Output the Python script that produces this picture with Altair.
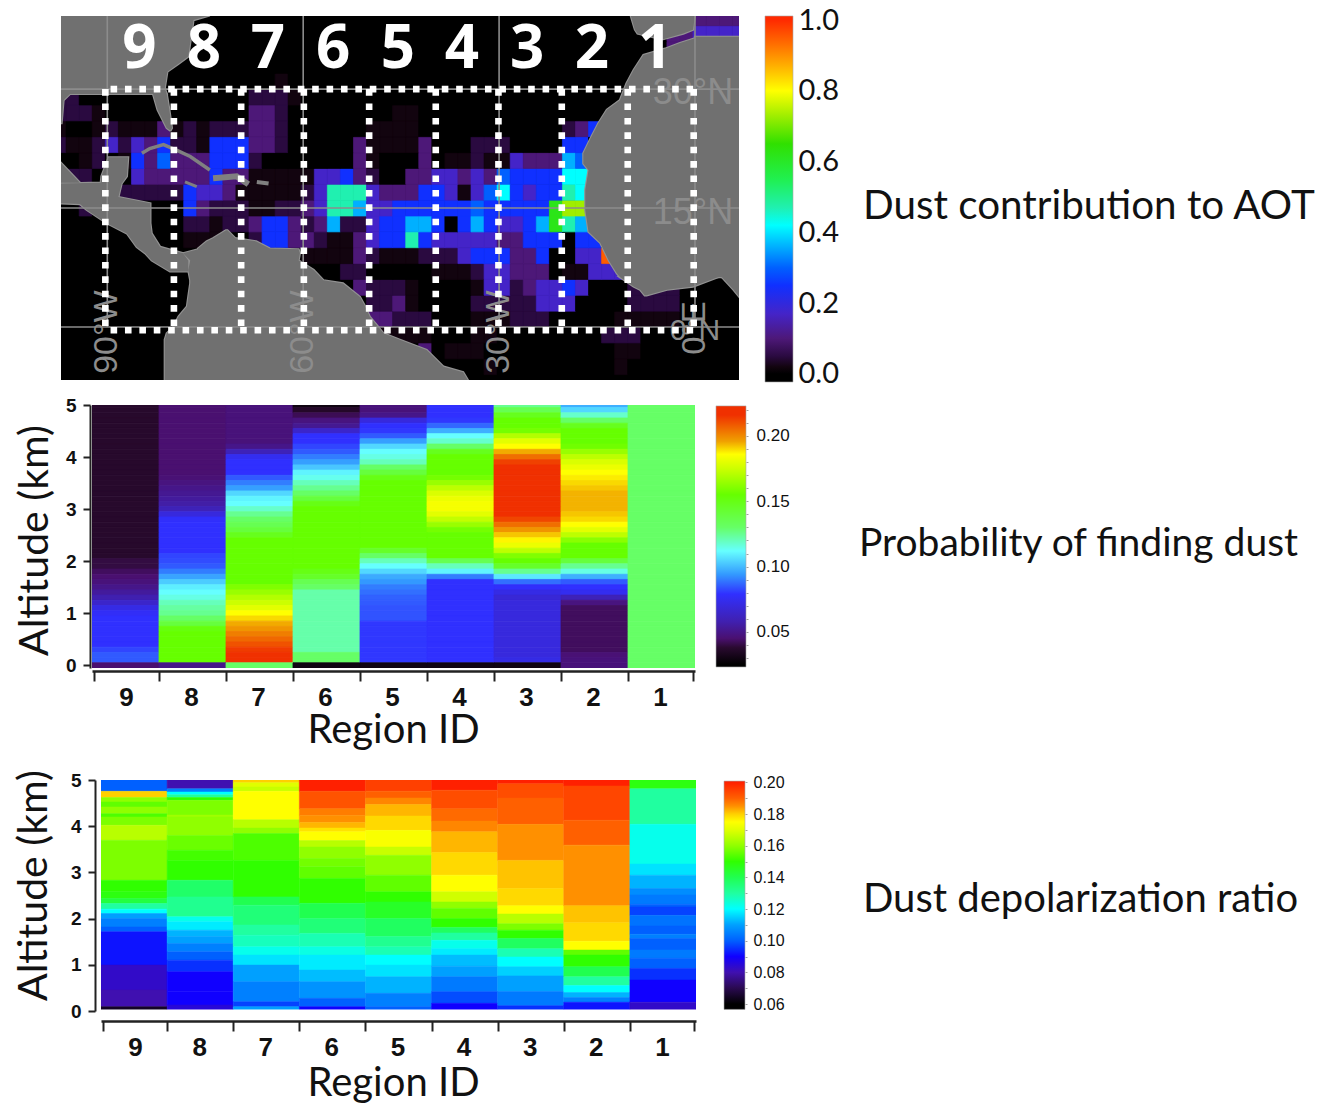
import altair as alt
import pandas as pd

TITLE_FONT = "Lato"
NUM_FONT = "Liberation Sans"

# ---------- map: dust contribution to AOT, 2 x 2 degree cells ----------
LON_START = -98.3
LON_RANGE = [-97.09, 6.74]
LAT_RANGE = [-6.68, 39.22]
LEVELS = {"0": 0.0, "1": 0.02, "2": 0.05, "3": 0.1, "4": 0.17, "5": 0.25, "6": 0.3, "7": 0.36,
          "8": 0.42, "9": 0.47, "a": 0.55, "b": 0.62, "c": 0.73, "d": 0.95}
AOT_ROWS = {
    38: "0000000000 0000000000 0000000000 0000000000 0000000003 333",
    36: "0000000000 0000000000 0000000000 0000000000 0000000334 444",
    34: "0000000000 0000000000 0000000000 0000000000 0000000330 000",
    30: "0000000000 0000000100 0000000000 0000000000 0000000000 000",
    28: "2200000000 0000022210 0000000000 0000000000 0000000000 000",
    26: "2221000000 0000033200 0000001100 0000000000 0000000000 000",
    24: "1001211131 2122233200 0000111100 0000000002 3500000000 000",
    22: "2112424352 2155533200 0003111130 0022200005 5000000000 000",
    20: "0012015363 3355520000 0003100030 1121143337 6000000000 000",
    18: "2220004333 3353311111 4453200334 4343655558 8000000000 000",
    16: "0000022222 5443111112 4999433355 4146854559 8000000000 000",
    14: "0020000000 5322211223 4997445555 55655555bc c000000000 000",
    12: "0000000000 2212235532 3722455775 05754457b9 7000000000 000",
    10: "0000000000 1110025533 2113455954 4444335550 5500000000 000",
    8: "0000000000 0000000001 1113211122 2455533500 44d0000000 000",
    6: "0000000000 0000000000 0022000001 1124433301 1444000000 000",
    4: "0000000000 0000000000 0003222100 0014423445 4000222200 000",
    2: "0000000000 0000000000 0000223100 0022222444 0000222200 000",
    0: "0000000000 0000000000 0000332220 0011122200 0001111100 000",
    -2: "0000000000 0000000000 0000011110 0011000000 0022200000 000",
    -4: "0000000000 0000000000 0000000030 1110000000 0001100000 000",
    -6: "0000000000 0000000000 0000000000 0001000000 0001000000 000",
}

AOT_STOPS = [-0.0226, 0.0, 0.02, 0.05, 0.1, 0.17, 0.25, 0.3, 0.36, 0.42, 0.47, 0.55, 0.65, 0.73, 0.8, 0.87, 0.93, 1.0, 1.0113]
AOT_COLORS = ["#000000", "#000000", "#12040f", "#2a0a40", "#4d1878", "#4424c8", "#1030ff", "#0060ff", "#00b0ff",
              "#00ffff", "#20f0b0", "#20f050", "#30e000", "#a0ee00", "#ffff00", "#ffb000", "#ff7000", "#ff2a00", "#ff2a00"]

# land pieces: (lat, west lon, east lon)
LAND_NORTH = [(39.3, -97.1, -74.3), (38.7, -97.1, -76.8), (34.1, -97.1, -77.6), (33.2, -97.1, -79.1),
              (32.2, -97.1, -80.8), (30.1, -97.1, -81.2), (29.4, -97.1, -80.9)]
LAND_FLORIDA = [(29.4, -83.0, -80.9), (27.4, -82.3, -80.5), (25.1, -80.9, -80.1), (24.8, -80.4, -80.3)]
LAND_GULF = [(29.4, -97.1, -95.7), (28.6, -97.1, -96.7), (25.7, -97.1, -97.0)]
LAND_WEDGE = [(20.7, -97.1, -97.1), (18.2, -97.1, -94.2)]
LAND_CENTRAL = [(21.4, -89.8, -86.8), (19.0, -90.9, -87.0), (18.2, -91.0, -87.7), (18.1, -97.1, -87.8),
                (16.4, -97.1, -88.3), (15.6, -97.1, -83.4), (15.5, -94.2, -83.4), (14.8, -93.2, -83.4),
                (13.1, -90.1, -83.4), (11.8, -87.0, -83.2), (10.1, -85.5, -81.9), (9.3, -84.2, -78.4),
                (8.4, -83.2, -77.6), (7.0, -80.4, -77.6)]
LAND_SOUTH = [(12.2, -71.8, -71.6), (11.2, -73.8, -70.4), (10.8, -74.8, -67.2), (9.9, -76.1, -65.1),
              (9.8, -76.1, -60.7), (9.3, -78.4, -60.5), (8.4, -77.3, -60.7), (7.2, -77.6, -58.4),
              (5.9, -77.3, -56.9), (5.5, -77.3, -53.9), (3.8, -77.6, -51.3), (2.6, -77.8, -50.5),
              (1.3, -79.1, -49.8), (0.0, -79.9, -48.5), (-0.8, -80.9, -47.7), (-1.6, -81.2, -45.2),
              (-2.9, -81.2, -41.1), (-5.0, -81.2, -38.5), (-5.7, -81.2, -35.5), (-6.8, -81.2, -34.7)]
LAND_SPAIN = [(39.3, -9.85, 0.0), (37.5, -9.2, -0.3), (37.0, -8.8, -1.8), (36.3, -5.1, -4.9)]
LAND_AFRICA = [(36.6, 0.0, 6.8), (36.4, 0.0, 6.8), (35.8, -2.3, 6.8), (35.1, -4.6, 6.8), (34.3, -7.9, 6.8),
               (32.4, -9.4, 6.8), (30.7, -10.5, 6.8), (28.6, -11.5, 6.8), (27.4, -13.5, 6.8), (25.7, -14.8, 6.8),
               (23.6, -16.1, 6.8), (21.9, -17.1, 6.8), (20.6, -17.1, 6.8), (19.8, -16.3, 6.8), (17.3, -16.8, 6.8),
               (14.75, -16.8, 6.8), (12.0, -16.3, 6.8), (10.6, -14.5, 6.8), (8.4, -13.2, 6.8), (6.8, -12.0, 6.8),
               (6.3, -11.5, 6.8)]
LAND_GUINEA = [(6.3, -11.5, 3.6), (5.1, -9.4, -0.3), (4.7, -8.4, -4.3), (4.0, -7.7, -7.4)]
LAND_NIGER = [(6.3, 4.1, 6.8), (4.7, 5.9, 6.8), (3.8, 6.8, 6.8)]
LAND_PIECES = [LAND_NORTH, LAND_FLORIDA, LAND_GULF, LAND_WEDGE, LAND_CENTRAL, LAND_SOUTH, LAND_SPAIN,
               LAND_AFRICA, LAND_GUINEA, LAND_NIGER]
ISLAND_CUBA = [(-84.7, 21.9), (-83.5, 22.5), (-81.4, 23.0), (-79.4, 22.3), (-77.3, 21.5), (-74.3, 19.8)]
ISLAND_HISPANIOLA = [(-73.8, 18.75), (-70.2, 19.0), (-68.4, 18.0)]
ISLAND_JAMAICA = [(-78.1, 18.3), (-76.3, 17.7)]
ISLAND_PR = [(-67.1, 18.3), (-65.3, 18.1)]

GRID_LATS = [30, 15, 0]
GRID_LONS = [-90, -60, -30, 0]
BOX_LONS = [-90.3, -79.8, -69.5, -59.9, -49.9, -39.7, -30.1, -20.4, -10.3, -0.2]
BOX_TOP = 30.0
BOX_BOTTOM = -0.4
BOX_WEST = -89.5
BIG_LABELS = ["9", "8", "7", "6", "5", "4", "3", "2", "1"]
BIG_LONS = [-85.1, -75.2, -65.4, -55.4, -45.5, -35.7, -25.7, -15.8, -6.1]
BIG_LAT = 34.9
GRID_TEXT_H = [("30°N", -0.3, 29.5), ("15°N", -0.3, 14.4)]
GRID_TEXT_V = [("90°W", -90.0, -5.9), ("60°W", -60.0, -5.9), ("30°W", -30.0, -5.9)]
GRID_TEXT_ZERO = [("0°N", 0.0, -0.5)]
GRID_TEXT_ZERO_V = [("0°E", 0.0, -3.5)]

AOT_TICKS = [0.0, 0.2, 0.4, 0.6, 0.8, 1.0]

# ---------- probability of finding dust: altitude 5.0 -> 0.0 km, 0.1 km steps ----------
PROB_ALT_TOP = 5.0
PROB_9 = [.037]*30 + [.04, .04, .043, .045, .047, .05, .054, .058, .065, .072, .077] + [.079]*6 + [.082, .085, .085, .045]
PROB_8 = [.045]*14 + [.046, .048, .05, .052, .054, .056, .06, .07, .078] + [.079]*6 + [.082, .083, .085, .09, .096, .103, .109, .112, .115, .12, .123, .125, .13, .14, .152] + [.155]*6 + [.05]
PROB_7 = [.047]*8 + [.05, .06, .075] + [.079]*3 + [.085, .09, .095, .105, .11, .112, .118, .125, .13, .135, .14, .148] + [.155]*9 + [.16, .165, .17, .175, .18, .186, .19, .195, .198, .202, .206, .21, .214, .216, .216, .13]
PROB_6 = [.03, .036, .042, .048, .052, .065, .079, .079, .082, .085, .09, .095, .102, .11, .114, .12, .125, .13, .14, .15] + [.155]*12 + [.15, .145, .135, .13] + [.122]*12 + [.13, .13, .03]
PROB_5 = [.047, .047, .05, .07, .079, .08, .085, .095, .105, .112, .115, .12, .13, .14, .15] + [.155]*13 + [.145, .13, .12, .112, .105, .097, .094, .09, .088, .086, .085, .084, .084, .084] + [.08]*8 + [.03]
PROB_4 = [.079]*3 + [.08, .087, .098, .112, .118, .13, .148] + [.155]*4 + [.158, .165, .172, .178, .182, .184, .184, .18, .173, .165, .158] + [.155]*5 + [.135, .12, .11, .09] + [.079]*16 + [.03]
PROB_3 = [.125, .135, .148, .155, .155, .158, .17, .18, .186, .195, .205, .213] + [.216]*10 + [.212, .205, .198, .192, .187, .182, .172, .16, .155, .145, .125, .108, .088, .078, .072, .068] + [.07]*11 + [.072, .03]
PROB_2 = [.098, .105, .118, .13, .148, .155, .155, .155, .157, .165, .172, .178, .182, .186, .188, .19, .192, .194, .194, .194, .194, .192, .19, .186, .18, .172, .162, .155, .155, .155, .14, .125, .115, .098, .085, .079, .075, .06, .048] + [.043]*9 + [.046, .047, .047]
PROB_1 = [.13]*51
PROB_SERIES = [PROB_9, PROB_8, PROB_7, PROB_6, PROB_5, PROB_4, PROB_3, PROB_2, PROB_1]
PROB_STOPS = [.0232, .025, .038, .045, .058, .079, .094, .112, .13, .155, .175, .186, .196, .216, .223]
PROB_COLORS = ["#000000", "#000000", "#2a0a30", "#4a1070", "#4020b0", "#3030ff", "#3399ff", "#66ffff", "#66ff66",
               "#66ff00", "#ccff00", "#ffff00", "#f0a000", "#f03000", "#f03000"]
PROB_TICKS = [round(.03 + .01 * i, 2) for i in range(20)]
PROB_LABELLED = [0.05, 0.1, 0.15, 0.2]

# ---------- dust depolarization ratio: stepped bands, tops in km ----------
DEPOL_BOTTOM = 0.04
DEPOL_TOPS_9 = [5, 4.755, 4.62, 4.525, 4.416, 4.272, 4.2, 4.02, 3.696, 2.83, 2.58, 2.435, 2.327, 2.205, 2.11, 2.0, 1.82, 1.715, .994, .454, .094]
DEPOL_VALS_9 = [.10, .18, .16, .155, .16, .153, .158, .165, .158, .15, .148, .142, .13, .12, .11, .105, .1, .092, .083, .08, .065]
DEPOL_TOPS_8 = [5, 4.81, 4.74, 4.68, 4.62, 4.56, 4.24, 4.2, 3.8, 3.48, 3.26, 2.83, 2.47, 2.04, 1.93, 1.75, 1.61, 1.46, 1.28, 1.10, .85, .42, .13]
DEPOL_VALS_8 = [.08, .105, .12, .13, .15, .158, .162, .16, .156, .152, .15, .137, .132, .122, .118, .112, .11, .105, .1, .095, .09, .09, .085]
DEPOL_TOPS_7 = [5, 4.94, 4.85, 4.755, 4.14, 3.96, 3.84, 3.26, 2.47, 2.29, 1.86, 1.64, 1.39, 1.21, .994, .634, .2, .094]
DEPOL_VALS_7 = [.18, .17, .167, .175, .165, .16, .153, .15, .14, .135, .13, .127, .122, .117, .11, .105, .097, .11]
DEPOL_TOPS_6 = [5, 4.755, 4.38, 4.236, 4.078, 3.96, 3.88, 3.69, 3.55, 3.3, 3.12, 2.87, 2.33, 2.0, 1.68, 1.39, 1.21, .886, .634, .274, .094]
DEPOL_VALS_6 = [.2, .192, .187, .185, .182, .178, .175, .165, .16, .157, .155, .15, .14, .135, .128, .123, .118, .113, .108, .1, .09]
DEPOL_TOPS_5 = [5, 4.755, 4.61, 4.47, 4.22, 3.91, 3.55, 3.37, 2.94, 2.58, 2.36, 2.0, 1.61, 1.39, 1.21, .994, .742, .382, .094]
DEPOL_VALS_5 = [.195, .19, .186, .182, .179, .174, .167, .16, .155, .15, .145, .138, .132, .128, .12, .117, .112, .105, .1]
DEPOL_TOPS_4 = [5, 4.78, 4.38, 4.11, 3.88, 3.43, 2.94, 2.58, 2.36, 2.22, 2.0, 1.81, 1.69, 1.53, 1.35, 1.21, .97, .742, .418, .166]
DEPOL_VALS_4 = [.2, .193, .189, .186, .182, .179, .175, .168, .16, .155, .15, .138, .13, .122, .118, .113, .11, .104, .098, .09]
DEPOL_TOPS_3 = [5, 4.92, 4.61, 4.04, 3.26, 2.65, 2.28, 2.1, 1.89, 1.75, 1.57, 1.35, 1.17, .96, .76, .42, .115]
DEPOL_VALS_3 = [.2, .193, .19, .185, .181, .179, .175, .165, .158, .15, .138, .128, .12, .115, .11, .104, .095]
DEPOL_TOPS_2 = [5, 4.87, 4.13, 3.59, 2.28, 1.91, 1.51, 1.32, 1.21, .96, .74, .55, .40, .29, .19]
DEPOL_VALS_2 = [.2, .194, .19, .185, .181, .179, .175, .155, .15, .14, .13, .12, .112, .105, .092]
DEPOL_TOPS_1 = [5, 4.81, 4.04, 3.18, 2.94, 2.65, 2.51, 2.31, 2.25, 2.07, 1.84, 1.66, 1.57, 1.32, 1.14, .92, .67, .19]
DEPOL_VALS_1 = [.148, .13, .122, .117, .112, .107, .104, .1, .097, .103, .1, .105, .1, .104, .1, .095, .09, .083]
DEPOL_SERIES = [(DEPOL_TOPS_9, DEPOL_VALS_9), (DEPOL_TOPS_8, DEPOL_VALS_8), (DEPOL_TOPS_7, DEPOL_VALS_7),
                (DEPOL_TOPS_6, DEPOL_VALS_6), (DEPOL_TOPS_5, DEPOL_VALS_5), (DEPOL_TOPS_4, DEPOL_VALS_4),
                (DEPOL_TOPS_3, DEPOL_VALS_3), (DEPOL_TOPS_2, DEPOL_VALS_2), (DEPOL_TOPS_1, DEPOL_VALS_1)]
DEPOL_STOPS = [.0566, .06, .07, .08, .09, .10, .11, .12, .13, .14, .15, .16, .17, .175, .18, .185, .19, .2, .2008]
DEPOL_COLORS = ["#000000", "#000000", "#2a0a50", "#4010b0", "#1000ff", "#0060ff", "#00a0ff", "#00ffff", "#20ffa0",
                "#20ff50", "#30ff00", "#90ff00", "#e0ff00", "#ffff00", "#ffd000", "#ff9000", "#ff6000", "#ff2000", "#ff2000"]
DEPOL_TICKS = [round(.06 + .01 * i, 2) for i in range(15)]
DEPOL_LABELLED = [.06, .08, .1, .12, .14, .16, .18, .2]

REGION_LABELS = ["9", "8", "7", "6", "5", "4", "3", "2", "1"]
REGION_TICKS = [0.03, 1, 2, 3, 4, 5, 6, 7, 8, 8.97]
ALT_TICKS = [0, 1, 2, 3, 4, 5]

SIDE_LABELS = ["Dust contribution to AOT", "Probability of finding dust", "Dust depolarization ratio"]

# layout tuning
GAP_1 = 7
GAP_2 = 19


def spacer(w, h):
    return alt.Chart(pd.DataFrame({"a": [0]})).mark_rect(opacity=0).encode(
        x=alt.value(0), x2=alt.value(w), y=alt.value(0), y2=alt.value(h)
    ).properties(width=w, height=h)


def side_text(label, w, h, dx, dy, size):
    return alt.Chart(pd.DataFrame({"t": [label]})).mark_text(
        align="left", baseline="middle", font=TITLE_FONT, fontSize=size, color="#111111"
    ).encode(x=alt.value(dx), y=alt.value(dy), text="t:N").properties(width=w, height=h)


def gradient(stops, colors):
    lo, hi = stops[0], stops[-1]
    return alt.Gradient(
        gradient="linear", x1=0, x2=0, y1=1, y2=0,
        stops=[alt.GradientStop(offset=(s - lo) / (hi - lo), color=c) for s, c in zip(stops, colors)],
    )


def colorbar(stops, colors, domain, ticks, labelled, fmt, w, h, font, size, pad, tick_size):
    expr = "indexof([" + ",".join(str(v) for v in labelled) + "], datum.value) >= 0 ? format(datum.value, '" + fmt + "') : ''"
    df = pd.DataFrame({"hi": [stops[-1]], "lo": [stops[0]]})
    return alt.Chart(df).mark_rect(fill=gradient(stops, colors), stroke="#a8a8a8", strokeWidth=0.6).encode(
        y=alt.Y("hi:Q", scale=alt.Scale(domain=domain, nice=False, zero=False),
                axis=alt.Axis(orient="right", values=ticks, labelExpr=expr, title=None, domain=False, grid=False,
                              ticks=tick_size > 0, tickSize=tick_size, tickColor="#888888", tickWidth=0.8,
                              labelFont=font, labelFontSize=size, labelPadding=pad, labelColor="#111111",
                              labelOverlap=False, labelFlush=False, labelBound=False)),
        y2="lo:Q",
    ).properties(width=w, height=h)


def region_axis(offset, title_x, title_pad):
    expr = "['" + "','".join(REGION_LABELS) + "',''][round(datum.value)]"
    return alt.Axis(values=REGION_TICKS, labelExpr=expr, labelOffset=32, title="Region ID", titleFont=TITLE_FONT,
                    titleFontSize=40, titleFontWeight="normal", titleColor="#111111", titlePadding=title_pad,
                    titleX=title_x,
                    labelFont=NUM_FONT, labelFontWeight="bold", labelFontSize=26, labelColor="#111111",
                    labelPadding=3, labelAngle=0, labelOverlap=False, labelFlush=False, labelBound=False,
                    tickSize=10, tickWidth=2, tickColor="#222222", domainWidth=2.5, domainColor="#222222",
                    grid=False, offset=offset)


def altitude_axis(offset, title_x, title_y, size):
    return alt.Axis(values=ALT_TICKS, title="Altitude (km)", titleFont=TITLE_FONT, titleFontSize=41,
                    titleFontWeight="normal", titleColor="#111111", titleX=title_x, titleY=title_y,
                    titleBaseline="alphabetic", titleAlign="center", titleAngle=270,
                    labelFont=NUM_FONT, labelFontWeight="bold", labelFontSize=size, labelColor="#111111",
                    labelPadding=7, tickSize=7, tickWidth=2, tickColor="#222222", domainWidth=2,
                    domainColor="#222222", grid=False, offset=offset, labelOverlap=False, labelBound=False, labelFlush=False)


def value_color(field, stops, colors):
    return alt.Color(field, scale=alt.Scale(domain=stops, range=colors, interpolate="rgb", clamp=True), legend=None)


def value_stroke(field, stops, colors):
    return alt.Stroke(field, scale=alt.Scale(domain=stops, range=colors, interpolate="rgb", clamp=True), legend=None)


# ---------- map ----------
cells = []
for lat in range(-8, 40, 2):
    row = AOT_ROWS.get(lat, "").replace(" ", "").ljust(53, "0")
    for i, c in enumerate(row):
        lon0 = LON_START + 2 * i
        cells.append({"lon0": lon0, "lon1": lon0 + 2, "lat0": lat, "lat1": lat + 2, "v": LEVELS[c]})
cells = pd.DataFrame(cells)

xs = alt.Scale(domain=LON_RANGE, nice=False, zero=False)
ys = alt.Scale(domain=[LAT_RANGE[0], LAT_RANGE[1]], nice=False, zero=False)
X = lambda f: alt.X(f, scale=xs, axis=None)
Y = lambda f: alt.Y(f, scale=ys, axis=None)

ocean = alt.Chart(pd.DataFrame({"a": [LON_RANGE[0]], "b": [LON_RANGE[1]], "c": [LAT_RANGE[0]], "d": [LAT_RANGE[1]]})).mark_rect(
    color="#000000", clip=True).encode(x=X("a:Q"), x2="b:Q", y=Y("c:Q"), y2="d:Q")

base_cells = alt.Chart(cells).mark_rect(clip=True, strokeWidth=0.7).encode(
    x=X("lon0:Q"), x2="lon1:Q", y=Y("lat0:Q"), y2="lat1:Q",
    color=value_color("v:Q", AOT_STOPS, AOT_COLORS), stroke=value_stroke("v:Q", AOT_STOPS, AOT_COLORS),
)

land = pd.DataFrame([{"piece": i, "lat": a, "lo": b, "hi": c} for i, p in enumerate(LAND_PIECES) for a, b, c in p])
land_edge = alt.Chart(land).mark_area(orient="horizontal", clip=True, color="#929292", stroke="#929292", strokeWidth=2.2).encode(
    y=Y("lat:Q"), x=alt.X("lo:Q", scale=xs, axis=None, stack=None), x2="hi:Q", detail="piece:N")
land_fill = alt.Chart(land).mark_area(orient="horizontal", clip=True, color="#707070").encode(
    y=Y("lat:Q"), x=alt.X("lo:Q", scale=xs, axis=None, stack=None), x2="hi:Q", detail="piece:N")


def island(points, w):
    df = pd.DataFrame([{"i": i, "lon": a, "lat": b} for i, (a, b) in enumerate(points)])
    return alt.Chart(df).mark_line(clip=True, color="#808080", strokeWidth=w).encode(
        x=X("lon:Q"), y=Y("lat:Q"), order="i:Q")


grid_h = alt.Chart(pd.DataFrame({"lat": GRID_LATS, "a": LON_RANGE[0], "b": LON_RANGE[1]})).mark_rule(
    color="#8c8c8c", strokeWidth=1.6, clip=True).encode(y=Y("lat:Q"), x=X("a:Q"), x2="b:Q")
grid_v = alt.Chart(pd.DataFrame({"lon": GRID_LONS, "a": 0.0, "b": LAT_RANGE[1]})).mark_rule(
    color="#8c8c8c", strokeWidth=1.6, clip=True).encode(x=X("lon:Q"), y=Y("a:Q"), y2="b:Q")


def grid_text(rows, angle, align, size):
    df = pd.DataFrame(rows, columns=["t", "lon", "lat"])
    return alt.Chart(df).mark_text(font=NUM_FONT, fontSize=size, color="#8c8c8c", angle=angle, align=align,
                                   baseline="middle").encode(
        x=X("lon:Q"), y=Y("lat:Q"), text="t:N")


gt_h = grid_text(GRID_TEXT_H, 0, "center", 36)
gt_z = grid_text(GRID_TEXT_ZERO, 0, "center", 30)
gt_v = grid_text(GRID_TEXT_V, 270, "left", 34)
gt_zv = grid_text(GRID_TEXT_ZERO_V, 270, "left", 33)

box_v = alt.Chart(pd.DataFrame({"lon": BOX_LONS, "a": BOX_TOP, "b": BOX_BOTTOM})).mark_rule(
    color="white", strokeWidth=6.6, strokeDash=[6.6, 7.8]).encode(x=X("lon:Q"), y=Y("a:Q"), y2="b:Q")
box_h = alt.Chart(pd.DataFrame({"lat": [BOX_TOP, BOX_BOTTOM], "a": BOX_WEST, "b": BOX_LONS[-1]})).mark_rule(
    color="white", strokeWidth=6.6, strokeDash=[6.6, 7.8]).encode(y=Y("lat:Q"), x=X("a:Q"), x2="b:Q")

big = alt.Chart(pd.DataFrame({"t": BIG_LABELS, "lon": BIG_LONS, "lat": BIG_LAT})).mark_text(
    font="Open Sans", fontWeight="bold", fontSize=60, color="white", baseline="middle", align="center").encode(
    x=X("lon:Q"), y=Y("lat:Q"), text="t:N")

map_chart = alt.layer(
    ocean, base_cells, land_edge, land_fill,
    island(ISLAND_CUBA, 3.5), island(ISLAND_HISPANIOLA, 6), island(ISLAND_JAMAICA, 3), island(ISLAND_PR, 4),
    grid_h, grid_v, gt_h, gt_z, gt_v, gt_zv, box_v, box_h, big,
).properties(width=678, height=364)

aot_bar = colorbar(AOT_STOPS, AOT_COLORS, [-0.0226, 1.0113], AOT_TICKS, AOT_TICKS, ".1f", 28, 366, TITLE_FONT, 29, 5, 0)

# ---------- probability panel ----------
prob = []
for pos, series in enumerate(PROB_SERIES):
    for k, v in enumerate(series):
        a = PROB_ALT_TOP - 0.1 * k
        prob.append({"x0": pos, "x1": pos + 1, "y0": a - 0.05, "y1": a + 0.05, "v": v})
prob = pd.DataFrame(prob)
prob_chart = alt.Chart(prob).mark_rect(clip=True, strokeWidth=0.8).encode(
    x=alt.X("x0:Q", scale=alt.Scale(domain=[0, 9], nice=False, zero=False), axis=region_axis(3, 301, 0)),
    x2="x1:Q",
    y=alt.Y("y0:Q", scale=alt.Scale(domain=[-0.05, 5], nice=False, zero=False),
            axis=altitude_axis(2, -43, 135, 19)),
    y2="y1:Q",
    color=value_color("v:Q", PROB_STOPS, PROB_COLORS), stroke=value_stroke("v:Q", PROB_STOPS, PROB_COLORS),
).properties(width=603, height=263)
prob_bar = colorbar(PROB_STOPS, PROB_COLORS, [.0224, .2237], PROB_TICKS, PROB_LABELLED, ".2f", 30, 263, NUM_FONT, 17, 8, 2)

# ---------- depolarization panel ----------
depol = []
for pos, (tops, vals) in enumerate(DEPOL_SERIES):
    lows = tops[1:] + [DEPOL_BOTTOM]
    for t, l, v in zip(tops, lows, vals):
        depol.append({"x0": pos, "x1": pos + 1, "y0": l, "y1": t, "v": v})
depol = pd.DataFrame(depol)
depol_chart = alt.Chart(depol).mark_rect(clip=True, strokeWidth=0.5).encode(
    x=alt.X("x0:Q", scale=alt.Scale(domain=[0, 9], nice=False, zero=False), axis=region_axis(10, 292, 3)),
    x2="x1:Q",
    y=alt.Y("y0:Q", scale=alt.Scale(domain=[0, 5], nice=False, zero=False),
            axis=altitude_axis(6, -49, 105, 19)),
    y2="y1:Q",
    color=value_color("v:Q", DEPOL_STOPS, DEPOL_COLORS), stroke=value_stroke("v:Q", DEPOL_STOPS, DEPOL_COLORS),
).properties(width=595, height=231)
depol_bar = colorbar(DEPOL_STOPS, DEPOL_COLORS, [.0556, .2015], DEPOL_TICKS, DEPOL_LABELLED, ".2f", 21, 231, NUM_FONT, 16, 6, 2)

# ---------- rows ----------
row1 = alt.hconcat(spacer(53, 366), map_chart, spacer(26, 366), aot_bar, side_text(SIDE_LABELS[0], 520, 366, 70, 191, 40.4),
                   spacing=0, bounds="flush")
row2 = alt.hconcat(spacer(84, 263), prob_chart, spacer(21, 263), prob_bar, side_text(SIDE_LABELS[1], 560, 263, 113, 139, 39),
                   spacing=0, bounds="flush")
row3 = alt.hconcat(spacer(93, 231), depol_chart, spacer(28, 231), depol_bar, side_text(SIDE_LABELS[2], 560, 231, 118, 120, 40),
                   spacing=0, bounds="flush")

chart = alt.vconcat(row1, spacer(10, GAP_1), row2, spacer(10, GAP_2), row3, spacing=0,
                    padding={"left": 0, "right": 0, "top": -2, "bottom": 0}).resolve_scale(
    color="independent", stroke="independent").configure_view(stroke=None)

chart.save("out.html", embed_options={"renderer": "svg", "actions": False})
